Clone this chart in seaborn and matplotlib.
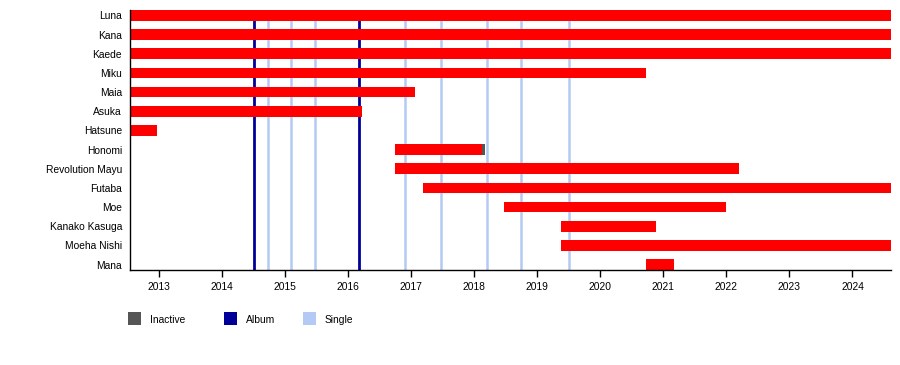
import matplotlib

matplotlib.use("Agg")
import matplotlib.dates as mdates
import matplotlib.pyplot as plt
import pandas as pd
import seaborn as sns
from matplotlib.patches import Rectangle

# Timeline span
START = "2012-07-18"
END = "2024-08-11"

members = [
    "Luna", "Kana", "Kaede", "Miku", "Maia", "Asuka", "Hatsune",
    "Honomi", "Revolution Mayu", "Futaba", "Moe", "Kanako Kasuga",
    "Moeha Nishi", "Mana",
]
active_from = [
    START, START, START, START, START, START, START,
    "2016-10-01", "2016-10-01", "2017-03-08", "2018-06-25", "2019-05-19",
    "2019-05-19", "2020-09-24",
]
active_to = [
    END, END, END, "2020-09-24", "2017-01-26", "2016-03-20", "2012-12-24",
    "2018-02-17", "2022-03-15", END, "2022-01-01", "2020-11-20",
    END, "2021-03-04",
]

# Inactive periods (member, from, to)
inactive_member = ["Honomi"]
inactive_from = ["2018-02-17"]
inactive_to = ["2018-03-07"]

albums = ["2014-07-05", "2016-03-07"]
singles = [
    "2014-09-27", "2015-02-06", "2015-06-25", "2016-11-24",
    "2017-06-21", "2018-03-18", "2018-10-01", "2019-07-05",
]

legend_labels = ["Inactive", "Album", "Single"]

RED = "#ff0000"
ALBUM = "#000099"
SINGLE = "#b4caf4"
INACTIVE = "#555555"

sns.set_theme(style="white")
plt.rcParams["font.family"] = ["Liberation Sans", "DejaVu Sans"]

df = pd.DataFrame({"member": members, "start": pd.to_datetime(active_from), "end": pd.to_datetime(active_to)})
df["row"] = range(len(df))
df["x0"] = mdates.date2num(df["start"])
df["x1"] = mdates.date2num(df["end"])

inactive = pd.DataFrame({"member": inactive_member, "start": pd.to_datetime(inactive_from), "end": pd.to_datetime(inactive_to)})
inactive = inactive.merge(df[["member", "row"]], on="member")

fig = plt.figure(figsize=(9, 3.65), dpi=100)
ax = fig.add_axes([130 / 900, 1 - 270 / 365, 761 / 900, 260 / 365])

bar_h = 0.56

# release lines behind the bars
for d in singles:
    ax.axvline(mdates.date2num(pd.Timestamp(d)), color=SINGLE, lw=1.8, zorder=1)
for d in albums:
    ax.axvline(mdates.date2num(pd.Timestamp(d)), color=ALBUM, lw=2.0, zorder=1)

ax.barh(df["row"], df["x1"] - df["x0"], left=df["x0"], height=bar_h, color=RED, linewidth=0, zorder=2)
ix0 = mdates.date2num(inactive["start"])
ix1 = mdates.date2num(inactive["end"])
ax.barh(inactive["row"], ix1 - ix0, left=ix0, height=bar_h, color=INACTIVE, linewidth=0, zorder=3)

ax.set_yticks(df["row"])
ax.set_yticklabels(df["member"])
ax.set_ylim(len(df) - 1 + bar_h / 2, -bar_h / 2)
ax.set_xlim(mdates.date2num(pd.Timestamp(START)), mdates.date2num(pd.Timestamp(END)))

ax.xaxis.set_major_locator(mdates.YearLocator())
ax.xaxis.set_major_formatter(mdates.DateFormatter("%Y"))

sns.despine(ax=ax, top=True, right=True)
for side in ("left", "bottom"):
    ax.spines[side].set_color("black")
    ax.spines[side].set_linewidth(1.0)

ax.tick_params(axis="x", bottom=True, length=5, width=1, color="black", pad=3.5, labelsize=7.4, labelcolor="black")
ax.tick_params(axis="y", left=False, length=0, pad=5.8, labelsize=7.4, labelcolor="black")
ax.set_xlabel("")
ax.set_ylabel("")

# legend, laid out like the timeline legend: swatch then label
legend_colors = [INACTIVE, ALBUM, SINGLE]
swatch_x = [128, 224, 303]
for x, c, lab in zip(swatch_x, legend_colors, legend_labels):
    fig.patches.append(
        Rectangle((x / 900, 1 - 325 / 365), 13 / 900, 13 / 365,
                  transform=fig.transFigure, facecolor=c, edgecolor="none")
    )
    fig.text((x + 22) / 900, 1 - 320 / 365, lab, fontsize=7.4, color="black", va="center", ha="left")

fig.savefig("out.png", dpi=100)
